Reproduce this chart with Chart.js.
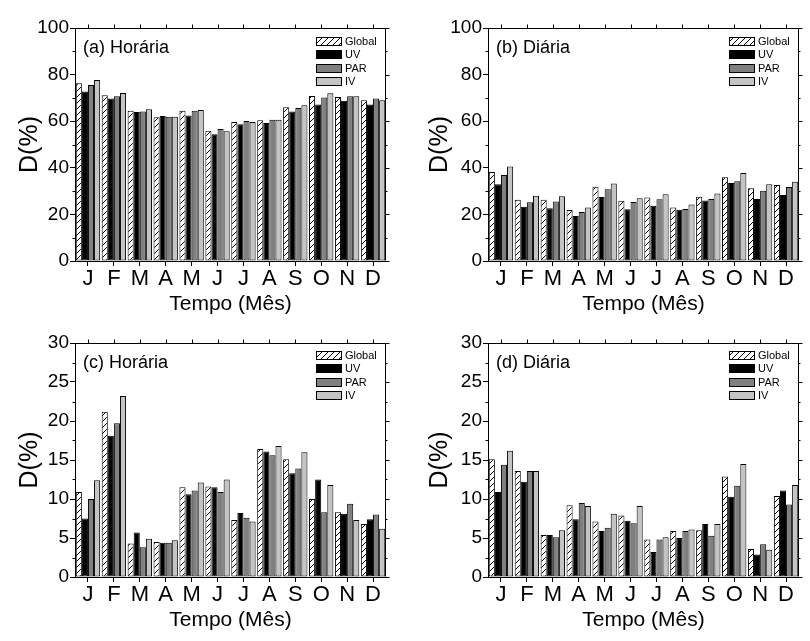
<!DOCTYPE html>
<html><head><meta charset="utf-8">
<script src="https://cdn.jsdelivr.net/npm/chart.js@4.4.1/dist/chart.umd.min.js"></script>
<style>
html,body{margin:0;padding:0;background:#fff;}
#wrap{position:relative;width:810px;height:641px;overflow:hidden;background:#fff;}
canvas{position:absolute;display:block;}
</style></head><body>
<div id="wrap">
<canvas id="ca" width="405" height="320" style="left:0;top:0"></canvas>
<canvas id="cb" width="405" height="320" style="left:405px;top:0"></canvas>
<canvas id="cc" width="405" height="321" style="left:0;top:320px"></canvas>
<canvas id="cd" width="405" height="321" style="left:405px;top:320px"></canvas>
</div>
<script>
const months = ['J','F','M','A','M','J','J','A','S','O','N','D'];
const seriesNames = ['Global','UV','PAR','IV'];

// (a) Horária
const aGlobal = [76.3,71.1,64.5,61.7,64.5,55.9,59.7,60.4,66.0,70.8,70.4,69.0];
const aUV     = [72.7,69.7,63.9,62.2,62.4,54.4,58.7,59.2,64.2,67.2,68.8,67.2];
const aPAR    = [75.5,70.7,64.2,61.9,64.5,56.7,60.1,60.6,65.7,70.2,70.7,69.7];
const aIV     = [77.7,72.1,65.1,61.9,64.8,55.7,59.7,60.6,66.8,72.0,70.7,69.0];

// (b) Diária
const bGlobal = [38.2,26.3,26.3,21.9,31.9,25.9,27.3,23.0,27.6,35.9,31.2,32.6];
const bUV     = [32.9,23.3,22.6,19.3,27.5,22.2,23.7,22.0,26.0,33.5,26.6,28.3];
const bPAR    = [36.9,25.2,25.5,21.0,30.8,25.3,26.5,22.3,26.6,34.2,30.2,31.8];
const bIV     = [40.6,28.0,27.8,23.0,33.3,26.9,28.6,24.2,29.0,37.8,32.9,34.0];

// (c) Horária
const cGlobal = [10.9,21.2,4.3,4.5,11.5,11.6,7.3,16.4,15.1,10.0,8.3,6.8];
const cUV     = [7.5,18.1,5.7,4.4,10.6,11.5,8.2,16.1,13.3,12.5,8.1,7.4];
const cPAR    = [10.0,19.7,3.8,4.4,11.1,10.9,7.6,15.6,13.9,8.3,9.4,8.0];
const cIV     = [12.4,23.2,4.9,4.7,12.1,12.5,7.1,16.8,16.0,11.8,7.3,6.2];

// (d) Diária
const dGlobal = [15.1,13.6,5.4,9.2,7.1,7.9,4.8,5.9,6.0,12.9,3.6,10.4];
const dUV     = [10.9,12.2,5.4,7.4,5.9,7.2,3.2,5.0,6.8,10.3,2.9,11.1];
const dPAR    = [14.4,13.6,5.1,9.5,6.3,6.9,4.8,5.9,5.3,11.7,4.2,9.3];
const dIV     = [16.2,13.6,6.0,9.1,8.1,9.1,5.1,6.1,6.8,14.5,3.5,11.8];

const yTicksTop = [0,20,40,60,80,100];
const yTicksBottom = [0,5,10,15,20,25,30];

const FAM = '"Liberation Sans", Arial, sans-serif';

function hatch(){
  const c=document.createElement('canvas'); c.width=6; c.height=6;
  const g=c.getContext('2d');
  g.fillStyle='#fff'; g.fillRect(0,0,6,6);
  g.strokeStyle='#000'; g.lineWidth=1;
  g.beginPath();
  g.moveTo(0,6); g.lineTo(6,0);
  g.moveTo(-1,1); g.lineTo(1,-1);
  g.moveTo(5,7); g.lineTo(7,5);
  g.stroke();
  return g.createPattern(c,'repeat');
}
const fills = [hatch(), '#000000', '#808080', '#c4c4c4'];

const framePlugin = {
  id:'frame',
  afterDraw(chart){
    const ctx=chart.ctx; const a=chart.chartArea;
    const ys=chart.scales.y, xs=chart.scales.x;
    ctx.save();
    ctx.strokeStyle='#000'; ctx.lineWidth=1;
    ctx.beginPath();
    const L=Math.round(a.left)+0.5, R=Math.round(a.right)-0.5, T=Math.round(a.top)+0.5, B=Math.round(a.bottom)-0.5;
    ctx.moveTo(L,T); ctx.lineTo(R,T); ctx.lineTo(R,B);
    // minor ticks left + major/minor right
    const step = chart.options.scales.y.ticks.stepSize;
    for(let v=ys.min; v<=ys.max+1e-9; v+=step/2){
      const y=Math.round(ys.getPixelForValue(v))+0.5;
      const major = Math.abs((v/step)-Math.round(v/step))<1e-6;
      if(!major){ ctx.moveTo(L,y); ctx.lineTo(L-3,y); }
      ctx.moveTo(R,y); ctx.lineTo(R+(major?4:2),y);
    }
    for(let i=0;i<chart.data.labels.length;i++){
      const x=Math.round(xs.getPixelForValue(i))+0.5;
      ctx.moveTo(x,T); ctx.lineTo(x,T-4);
    }
    ctx.stroke();
    ctx.restore();
  }
};

const labelPlugin = {
  id:'panelLabel',
  afterDatasetsDraw(chart, args, opts){
    const ctx=chart.ctx; const a=chart.chartArea;
    ctx.save();
    ctx.fillStyle='#000'; ctx.font='18px '+FAM; ctx.textBaseline='middle'; ctx.textAlign='left';
    ctx.fillText(opts.text, a.left+8, a.top+opts.dy);
    // legend
    ctx.font='11px '+FAM;
    chart.data.datasets.forEach((ds,i)=>{
      const x=Math.round(a.right-70), y=Math.round(a.top+opts.ly+i*13.3);
      ctx.fillStyle=ds.backgroundColor; ctx.fillRect(x,y,26,9);
      ctx.strokeStyle='#000'; ctx.lineWidth=1; ctx.strokeRect(x+0.5,y+0.5,25,8);
      ctx.fillStyle='#000'; ctx.fillText(ds.label, x+29, y+5);
    });
    ctx.restore();
  }
};

function makeChart(id, series, cfg){
  const datasets = series.map((d,i)=>({
    label: seriesNames[i], data: d, backgroundColor: fills[i],
    borderColor:'#000', borderWidth:1, borderSkipped:false,
    categoryPercentage:0.94, barPercentage:1.0
  }));
  return new Chart(document.getElementById(id), {
    type:'bar',
    data:{labels:months, datasets},
    plugins:[framePlugin, labelPlugin],
    options:{
      responsive:false, animation:false, devicePixelRatio:1,
      layout:{padding:{left:0, right:cfg.padRight, top:cfg.padTop, bottom:0}},
      plugins:{legend:{display:false}, tooltip:{enabled:false},
        panelLabel:{text:cfg.label, dy:cfg.dy, ly:cfg.ly}},
      scales:{
        x:{
          offset:true,
          grid:{offset:false, drawOnChartArea:false, tickLength:5, color:'#000'},
          border:{color:'#000', width:1},
          ticks:{color:'#000', font:{size:22, family:FAM}, padding:0, maxRotation:0, autoSkip:false},
          title:{display:true, text:'Tempo (Mês)', color:'#000', font:{size:21, family:FAM}, padding:{top:0, bottom:cfg.xtPad}},
          afterFit(s){ s.height = cfg.xH; }
        },
        y:{
          min:cfg.ymin, max:cfg.ymax,
          afterBuildTicks(s){ s.ticks = cfg.yticks.map(v=>({value:v})); },
          ticks:{stepSize:cfg.step, color:'#000', font:{size:19, family:FAM}, padding:1},
          grid:{drawOnChartArea:false, tickLength:5, color:'#000'},
          border:{color:'#000', width:1},
          title:{display:true, text:'D(%)', color:'#000', font:{size:25, family:FAM}, padding:{top:cfg.ytPad, bottom:0}},
          afterFit(s){ s.width = cfg.yW; }
        }
      }
    }
  });
}

makeChart('ca', [aGlobal,aUV,aPAR,aIV], {label:'(a) Horária', padRight:19, padTop:28, xH:59, xtPad:3, yW:75, ytPad:15, ymin:0, ymax:100, step:20, yticks:yTicksTop, dy:20, ly:9});
makeChart('cb', [bGlobal,bUV,bPAR,bIV], {label:'(b) Diária', padRight:11, padTop:28, xH:59, xtPad:3, yW:83, ytPad:20, ymin:0, ymax:100, step:20, yticks:yTicksTop, dy:20, ly:9});
makeChart('cc', [cGlobal,cUV,cPAR,cIV], {label:'(c) Horária', padRight:19, padTop:23, xH:64, xtPad:8, yW:75, ytPad:15, ymin:0, ymax:30, step:5, yticks:yTicksBottom, dy:20, ly:8});
makeChart('cd', [dGlobal,dUV,dPAR,dIV], {label:'(d) Diária', padRight:11, padTop:23, xH:64, xtPad:8, yW:83, ytPad:20, ymin:0, ymax:30, step:5, yticks:yTicksBottom, dy:20, ly:8});
</script>
</body></html>
